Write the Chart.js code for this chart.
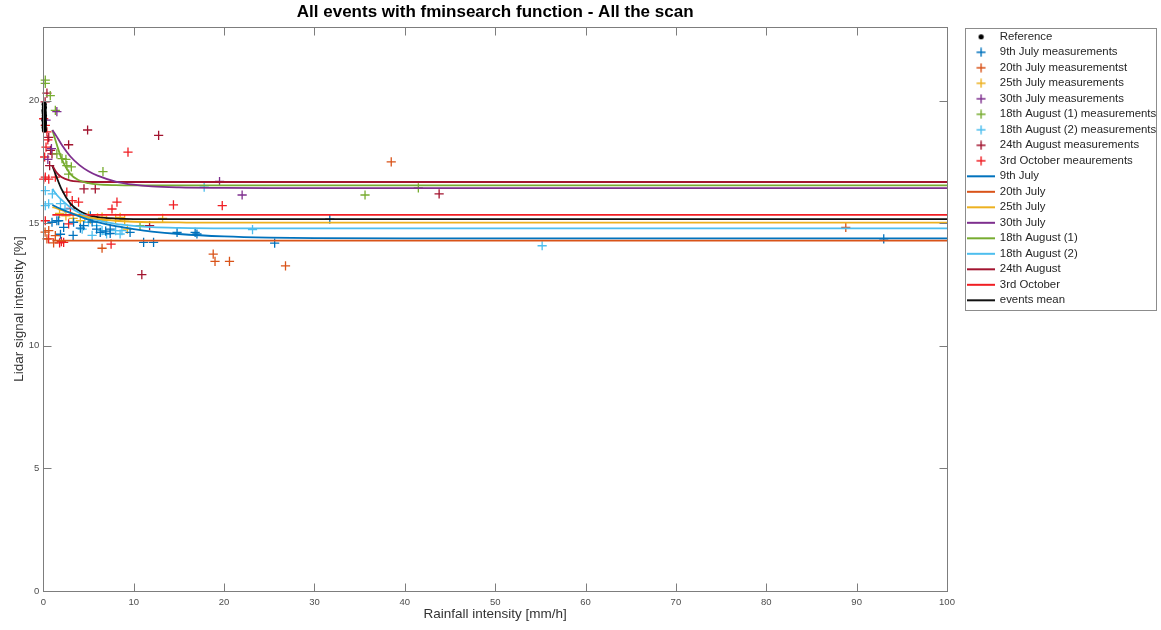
<!DOCTYPE html>
<html>
<head>
<meta charset="utf-8">
<title>All events with fminsearch function - All the scan</title>
<script src="https://cdn.jsdelivr.net/npm/chart.js@4.4.1/dist/chart.umd.min.js"></script>
<style>
  html, body { margin: 0; padding: 0; background: #ffffff; }
  #wrap { width: 1161px; height: 630px; }
</style>
</head>
<body>
<div id="wrap"><canvas id="chart" width="1161" height="630"></canvas></div>
<script>
// ---- axis ticks ----
const xTicks = [0, 10, 20, 30, 40, 50, 60, 70, 80, 90, 100];
const yTicks = [0, 5, 10, 15, 20];

// ---- reference values (no rain) ----
const referenceX = [0.10, 0.12, 0.08, 0.10, 0.12, 0.10, 0.08, 0.12, 0.10, 0.10, 0.12];
const referenceY = [19.85, 19.72, 19.6, 19.5, 19.4, 19.3, 19.2, 19.1, 19.0, 18.9, 18.8];

// ---- measurements: rainfall [mm/h] vs lidar signal [%] ----
const july9X = [0.96, 1.5, 1.7, 1.9, 2.25, 3.3, 3.35, 4.1, 4.46, 5.2, 5.4, 5.9, 6.3, 6.9, 7.4, 7.4, 9.6, 11.1, 12.2, 14.8, 16.8, 17.0, 25.6, 31.7, 93.0];
const july9Y = [15.04, 15.1, 15.1, 14.55, 14.83, 14.5, 15.04, 14.8, 14.9, 15.3, 15.05, 14.76, 14.63, 14.68, 14.76, 14.58, 14.63, 14.22, 14.22, 14.63, 14.63, 14.56, 14.19, 15.17, 14.36];

const july20X = [0.2, 0.4, 0.6, 1.14, 1.33, 6.5, 18.8, 19.0, 20.6, 26.8, 38.5, 88.8];
const july20Y = [14.64, 14.36, 14.7, 14.2, 14.49, 13.98, 13.74, 13.44, 13.44, 13.26, 17.5, 14.83];

const july25X = [1.8, 2.5, 3.3, 4.1, 5.0, 5.2, 6.0, 6.5, 7.0, 8.0, 8.5, 9.0, 9.3, 13.2];
const july25Y = [15.4, 15.3, 15.2, 15.1, 15.3, 15.17, 15.22, 15.25, 15.12, 15.2, 15.24, 15.15, 14.76, 15.2];

const july30X = [0.3, 0.5, 0.9, 1.5, 19.5, 22.0];
const july30Y = [19.2, 17.6, 18.04, 19.55, 16.7, 16.15];

const aug18aX = [0.22, 0.22, 0.77, 1.33, 1.5, 2.07, 2.5, 2.6, 2.8, 3.1, 6.6, 10.7, 35.6, 41.5];
const aug18aY = [20.83, 20.7, 20.2, 19.6, 17.83, 17.63, 17.6, 17.35, 17.0, 17.3, 17.1, 14.9, 16.15, 16.44];

const aug18bX = [0.22, 0.22, 0.59, 1.0, 1.9, 2.4, 4.3, 4.6, 5.0, 5.4, 5.9, 6.5, 7.0, 8.0, 8.5, 8.7, 17.8, 23.15, 55.2];
const aug18bY = [16.33, 15.72, 15.79, 16.2, 15.8, 15.58, 14.76, 15.24, 15.04, 14.5, 14.9, 14.7, 14.56, 14.7, 14.56, 14.7, 16.47, 14.74, 14.08];

const aug24X = [0.2, 0.4, 0.6, 0.7, 0.8, 0.96, 2.8, 4.5, 4.9, 5.75, 10.9, 11.76, 12.76, 43.8];
const aug24Y = [19.95, 20.3, 18.5, 17.35, 17.97, 17.83, 18.2, 16.4, 18.8, 16.4, 12.9, 14.9, 18.58, 16.2];

const oct3X = [0.04, 0.15, 0.22, 0.3, 0.4, 0.5, 0.04, 0.6, 0.22, 0.22, 1.33, 2.6, 3.2, 3.9, 7.6, 8.15, 9.37, 14.4, 19.8, 0.59, 1.8, 2.0, 2.25, 2.8, 3.0, 7.5];
const oct3Y = [19.26, 17.7, 18.99, 18.1, 18.72, 18.4, 16.8, 16.8, 15.1, 16.88, 16.88, 16.27, 15.92, 15.86, 15.58, 15.86, 17.9, 15.75, 15.72, 14.36, 14.2, 14.25, 14.22, 14.97, 15.6, 14.15];

// ---- fitted curves (fminsearch), sampled on a common rainfall grid ----
const fitX      = [1.0, 1.5, 2, 3, 4, 5, 6, 8, 10, 12, 15, 20, 25, 30, 40, 100];
const fitJuly9  = [15.74, 15.65, 15.57, 15.42, 15.28, 15.15, 15.04, 14.88, 14.76, 14.66, 14.56, 14.46, 14.41, 14.39, 14.38, 14.38];
const fitJuly20 = [14.29, 14.29, 14.29, 14.29, 14.29, 14.29, 14.29, 14.29, 14.29, 14.29, 14.29, 14.29, 14.29, 14.29, 14.29, 14.29];
const fitJuly25 = [15.66, 15.6, 15.53, 15.42, 15.32, 15.24, 15.18, 15.1, 15.06, 15.04, 15.03, 15.02, 15.02, 15.02, 15.02, 15.02];
const fitJuly30 = [18.8, 18.52, 18.22, 17.72, 17.37, 17.12, 16.94, 16.7, 16.57, 16.5, 16.46, 16.44, 16.43, 16.43, 16.43, 16.43];
const fitAug18a = [18.8, 18.2, 17.65, 17.0, 16.74, 16.63, 16.58, 16.55, 16.54, 16.54, 16.54, 16.54, 16.54, 16.54, 16.54, 16.54];
const fitAug18b = [16.4, 16.15, 15.96, 15.64, 15.42, 15.25, 15.13, 14.97, 14.89, 14.84, 14.81, 14.79, 14.79, 14.79, 14.79, 14.79];
const fitAug24  = [17.35, 17.05, 16.88, 16.74, 16.7, 16.68, 16.68, 16.68, 16.68, 16.68, 16.68, 16.68, 16.68, 16.68, 16.68, 16.68];
const fitOct3   = [15.34, 15.34, 15.34, 15.34, 15.34, 15.34, 15.34, 15.34, 15.34, 15.34, 15.34, 15.34, 15.34, 15.34, 15.34, 15.34];
const fitMean   = [17.35, 16.85, 16.4, 15.8, 15.5, 15.33, 15.25, 15.19, 15.17, 15.17, 15.17, 15.17, 15.17, 15.17, 15.17, 15.17];

// ---- styling ----
const FONT = "'Liberation Sans', Arial, Helvetica, sans-serif";
const C = {
  blue: '#0072BD', orange: '#D95319', yellow: '#EDB120', purple: '#7E2F8E',
  green: '#77AC30', cyan: '#4DBEEE', crimson: '#A2142F', red: '#F01E23', black: '#111111'
};

function zip(xs, ys) { return xs.map((x, i) => ({ x: x, y: ys[i] })); }

// small canvases used as legend glyphs
function crossIcon(color) {
  const c = document.createElement('canvas'); c.width = 10; c.height = 10;
  const g = c.getContext('2d'); g.strokeStyle = color; g.lineWidth = 1.4;
  g.beginPath(); g.moveTo(5, 0.5); g.lineTo(5, 9.5); g.moveTo(0.5, 5); g.lineTo(9.5, 5); g.stroke();
  return c;
}
function dotIcon(color) {
  const c = document.createElement('canvas'); c.width = 7; c.height = 7;
  const g = c.getContext('2d'); g.fillStyle = color;
  g.beginPath(); g.arc(3.5, 3.5, 2.6, 0, Math.PI * 2); g.fill();
  return c;
}
function lineIcon(color) {
  const c = document.createElement('canvas'); c.width = 28; c.height = 4;
  const g = c.getContext('2d'); g.strokeStyle = color; g.lineWidth = 2;
  g.beginPath(); g.moveTo(0, 2); g.lineTo(28, 2); g.stroke();
  return c;
}

const measurements = [
  ['9th July measurements', july9X, july9Y, C.blue],
  ['20th July measurementst', july20X, july20Y, C.orange],
  ['25th July measurements', july25X, july25Y, C.yellow],
  ['30th July measurements', july30X, july30Y, C.purple],
  ['18th August (1) measurements', aug18aX, aug18aY, C.green],
  ['18th August (2) measurements', aug18bX, aug18bY, C.cyan],
  ['24th August measurements', aug24X, aug24Y, C.crimson],
  ['3rd October meaurements', oct3X, oct3Y, C.red]
];
const fits = [
  ['9th July', fitJuly9, C.blue],
  ['20th July', fitJuly20, C.orange],
  ['25th July', fitJuly25, C.yellow],
  ['30th July', fitJuly30, C.purple],
  ['18th August (1)', fitAug18a, C.green],
  ['18th August (2)', fitAug18b, C.cyan],
  ['24th August', fitAug24, C.crimson],
  ['3rd October', fitOct3, C.red],
  ['events mean', fitMean, C.black]
];

const datasets = [];
datasets.push({
  label: 'Reference', data: zip(referenceX, referenceY), order: 0, clip: false,
  pointStyle: 'circle', pointRadius: 2.6, pointBackgroundColor: '#000', pointBorderColor: '#000',
  pointBorderWidth: 0, legendIcon: dotIcon('#000')
});
measurements.forEach(([label, xs, ys, color]) => {
  datasets.push({
    label, data: zip(xs, ys), order: 1, clip: false,
    pointStyle: 'cross', pointRadius: 4.6, pointBorderWidth: 1.3,
    pointBorderColor: color, pointBackgroundColor: color, legendIcon: crossIcon(color)
  });
});
fits.forEach(([label, ys, color]) => {
  datasets.push({
    label, data: zip(fitX, ys), order: 0, showLine: true,
    borderColor: color, borderWidth: 1.8, pointRadius: 0, fill: false,
    cubicInterpolationMode: 'monotone', legendIcon: lineIcon(color)
  });
});

// MATLAB-like axes box with inward ticks, plus a framed legend
const axesBox = {
  id: 'axesBox',
  afterDatasetsDraw(chart) {
    const { ctx, chartArea: a, scales } = chart;
    const x = scales.x, y = scales.y;
    const L = 8;
    ctx.save();
    ctx.strokeStyle = '#7d7d7d';
    ctx.lineWidth = 1;
    const l = Math.round(a.left) + 0.5, r = Math.round(a.right) + 0.5;
    const t = Math.round(a.top) + 0.5, b = Math.round(a.bottom) + 0.5;
    ctx.strokeRect(l, t, r - l, b - t);
    ctx.beginPath();
    x.ticks.forEach(tk => {
      const px = Math.round(x.getPixelForValue(tk.value)) + 0.5;
      ctx.moveTo(px, b); ctx.lineTo(px, b - L);
      ctx.moveTo(px, t); ctx.lineTo(px, t + L);
    });
    y.ticks.forEach(tk => {
      const py = Math.round(y.getPixelForValue(tk.value)) + 0.5;
      ctx.moveTo(l, py); ctx.lineTo(l + L, py);
      ctx.moveTo(r, py); ctx.lineTo(r - L, py);
    });
    ctx.stroke();
    ctx.restore();
  },
  afterDraw(chart) {
    const boxes = chart.legend && chart.legend.legendHitBoxes;
    if (!boxes || !boxes.length) return;
    let left = Infinity, top = Infinity, right = -Infinity, bottom = -Infinity;
    boxes.forEach(h => {
      left = Math.min(left, h.left); top = Math.min(top, h.top);
      right = Math.max(right, h.left + h.width); bottom = Math.max(bottom, h.top + h.height);
    });
    const ctx = chart.ctx;
    ctx.save();
    ctx.strokeStyle = '#8c8c8c';
    ctx.lineWidth = 1;
    const bx = Math.round(left - 3) + 0.5, by = Math.round(top - 3.5) + 0.5;
    const bw = Math.round(Math.min(right + 2, chart.width - 5)) + 0.5 - bx;
    const bh = Math.round(bottom + 4) + 0.5 - by;
    ctx.strokeRect(bx, by, bw, bh);
    ctx.restore();
  }
};

Chart.defaults.font.family = FONT;

new Chart(document.getElementById('chart'), {
  type: 'scatter',
  data: { datasets },
  plugins: [axesBox],
  options: {
    responsive: false,
    devicePixelRatio: 1,
    animation: false,
    events: [],
    layout: { padding: { top: 0, left: 6, right: 0, bottom: 5 } },
    plugins: {
      tooltip: { enabled: false },
      title: {
        display: true,
        text: 'All events with fminsearch function - All the scan',
        fullSize: false,
        color: '#000',
        font: { size: 17, weight: 'bold', lineHeight: 1.2 },
        padding: { top: 1.8, bottom: 4.8 }
      },
      legend: {
        position: 'right',
        align: 'start',
        fullSize: false,
        maxWidth: 197,
        labels: {
          usePointStyle: true,
          pointStyleWidth: 26,
          padding: 4.1,
          color: '#262626',
          font: { size: 11.4 },
          generateLabels(chart) {
            return chart.data.datasets.map((ds, i) => ({
              text: ds.label,
              fillStyle: 'transparent',
              strokeStyle: 'transparent',
              lineWidth: 0,
              hidden: false,
              pointStyle: ds.legendIcon,
              datasetIndex: i,
              fontColor: '#262626'
            }));
          }
        }
      }
    },
    scales: {
      x: {
        type: 'linear', position: 'bottom', min: 0, max: 100,
        afterBuildTicks: s => { s.ticks = xTicks.map(v => ({ value: v })); },
        grid: { display: false, drawTicks: false }, border: { display: false },
        ticks: { color: '#4d4d4d', font: { size: 9.5 }, padding: 6, maxRotation: 0 },
        title: {
          display: true, text: 'Rainfall intensity [mm/h]', color: '#333',
          font: { size: 13.5, lineHeight: 1 }, padding: { top: -7, bottom: 4 }
        }
      },
      y: {
        type: 'linear', position: 'left', min: 0, max: 23,
        afterBuildTicks: s => { s.ticks = yTicks.map(v => ({ value: v })); },
        grid: { display: false, drawTicks: false }, border: { display: false },
        ticks: { color: '#4d4d4d', font: { size: 9.5 }, padding: 4 },
        title: {
          display: true, text: 'Lidar signal intensity [%]', color: '#333',
          font: { size: 13.5, lineHeight: 1 }, padding: { top: 6.25, bottom: -1 }
        }
      },
      yRight: {
        type: 'linear', position: 'right', min: 0, max: 23, display: true,
        grid: { display: false, drawTicks: false }, border: { display: false },
        ticks: { display: false },
        afterFit: s => { s.width = 17; }
      }
    }
  }
});
</script>
</body>
</html>
